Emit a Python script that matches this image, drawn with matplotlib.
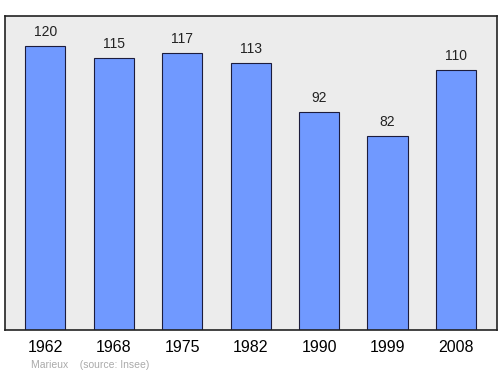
import matplotlib
matplotlib.use('Agg')
import matplotlib.pyplot as plt

plt.rcParams['font.family'] = ['Liberation Sans', 'DejaVu Sans']

years = ['1962', '1968', '1975', '1982', '1990', '1999', '2008']
population = [120, 115, 117, 113, 92, 82, 110]

fig = plt.figure(figsize=(5, 3.74), dpi=100)
ax = fig.add_axes([0.01, 0.1176, 0.984, 0.8396])
ax.set_facecolor('#ececec')

x = range(len(years))
ax.bar(x, population, width=0.585, color='#7099ff', edgecolor='#1c1c3c', linewidth=0.8, zorder=2)

for i, v in enumerate(population):
    ax.text(i, v + 5.9, str(v), ha='center', va='center', fontsize=10, color='#222222')

ax.set_xlim(-0.59, 6.6)
ax.set_ylim(0, 132.7)
ax.set_yticks([])
ax.set_xticks(list(x))
ax.set_xticklabels(years, fontsize=11.5)
ax.tick_params(axis='x', length=0, pad=7)
for s in ax.spines.values():
    s.set_linewidth(1.2)
    s.set_color('#222222')

fig.text(0.062, 0.012, 'Marieux    (source: Insee)', fontsize=7.5, color='#aaaaaa', ha='left', va='bottom')

fig.savefig('out.png', dpi=100)
